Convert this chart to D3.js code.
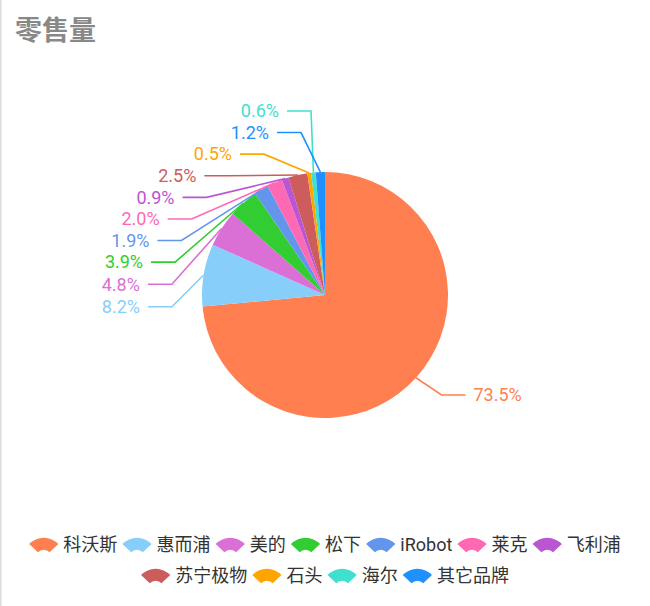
<!DOCTYPE html>
<html>
<head>
<meta charset="utf-8">
<script src="https://cdn.jsdelivr.net/npm/d3@7"></script>
<style>
  html, body { margin: 0; padding: 0; background: #fff; }
  svg { display: block; font-family: Roboto, "Noto Sans CJK SC", sans-serif; }
</style>
</head>
<body>
<div id="chart"></div>
<script>
// dados do gráfico
const titulo = "零售量";
const marcas = ["科沃斯", "惠而浦", "美的", "松下", "iRobot", "莱克", "飞利浦", "苏宁极物", "石头", "海尔", "其它品牌"];
const percentuais = [73.5, 8.2, 4.8, 3.9, 1.9, 2.0, 0.9, 2.5, 0.5, 0.6, 1.2];
const cores = ["#ff7f50", "#87cefa", "#da70d6", "#32cd32", "#6495ed", "#ff69b4", "#ba55d3", "#cd5c5c", "#ffa500", "#40e0d0", "#1e90ff"];

const W = 650, H = 606;
const cx = 325, cy = 295, r = 123;
const len = 25.5, len2 = 24, gap = 8, lineH = 21.6;
const rCurva = r + 30.5; // raio onde ficam os cotovelos depois do ajuste

const svg = d3.select("#chart").append("svg")
  .attr("width", W)
  .attr("height", H);

// borda esquerda
svg.append("line")
  .attr("x1", 0.75).attr("x2", 0.75)
  .attr("y1", 0).attr("y2", H)
  .attr("stroke", "#dcdcdc")
  .attr("stroke-width", 1.5);

// título
svg.append("text")
  .attr("x", 15)
  .attr("y", 40)
  .style("font-size", "27px")
  .style("font-weight", "bold")
  .attr("fill", "#888")
  .text(titulo);

const color = d3.scaleOrdinal(marcas, cores);

const pie = d3.pie().sort(null).value(d => d.valor);
const arcs = pie(marcas.map((m, i) => ({ marca: m, valor: percentuais[i] })));
const arc = d3.arc().innerRadius(0).outerRadius(r);

svg.append("g")
  .attr("transform", `translate(${cx},${cy})`)
  .selectAll("path")
  .data(arcs)
  .join("path")
  .attr("d", arc)
  .attr("fill", d => color(d.data.marca));

// rótulos: posição natural + deslocamento vertical para evitar sobreposição
const rotulos = arcs.map(a => {
  const mid = (a.startAngle + a.endAngle) / 2;
  const sx = Math.sin(mid), sy = -Math.cos(mid);
  return {
    a,
    dir: sx < 0 ? -1 : 1,
    x0: cx + r * sx, y0: cy + r * sy,
    x1: cx + (r + len) * sx,
    y: cy + (r + len) * sy
  };
});

function ajustaLado(list, dir) {
  // empates (mesmo pixel) mantêm a ordem dos dados
  list.sort((a, b) => Math.round(a.y) - Math.round(b.y));
  const n = list.length;

  function shiftUp(end, delta) {
    for (let j = end; j >= 0; j--) {
      if (list[j].y - delta < 0) break;
      list[j].y -= delta;
      if (j > 0 && list[j].y > list[j - 1].y + lineH) break;
    }
  }
  function shiftDown(start, end, delta) {
    for (let j = start; j < end; j++) {
      if (list[j].y + delta > H) break;
      list[j].y += delta;
      if (j > start && j + 1 < end && list[j + 1].y > list[j].y + lineH) {
        shiftUp(j, delta / 2);
        return;
      }
    }
    shiftUp(end - 1, delta / 2);
  }

  let lastY = 0;
  for (let i = 0; i < n; i++) {
    const delta = list[i].y - lastY;
    if (delta < 0) shiftDown(i, n, -delta);
    lastY = list[i].y + lineH;
  }

  function mudaX(items, baixo) {
    let last = baixo ? Infinity : 0;
    items.forEach(d => {
      const dy = Math.abs(d.y - cy);
      let dx = dy < rCurva ? Math.sqrt(rCurva * rCurva - dy * dy) : Math.abs(d.x1 - cx);
      if (baixo && dx >= last) dx = last - 10;
      if (!baixo && dx <= last) dx = last + 10;
      d.x1 = cx + dx * dir;
      last = dx;
    });
  }
  mudaX(list.filter(d => d.y < cy), false);
  mudaX(list.filter(d => d.y >= cy), true);
}

ajustaLado(rotulos.filter(d => d.dir < 0), -1);
ajustaLado(rotulos.filter(d => d.dir > 0), 1);

const gLabels = svg.append("g");

gLabels.selectAll("polyline")
  .data(rotulos)
  .join("polyline")
  .attr("points", d => [[d.x0, d.y0], [d.x1, d.y], [d.x1 + d.dir * len2, d.y]].join(" "))
  .attr("fill", "none")
  .attr("stroke", d => color(d.a.data.marca))
  .attr("stroke-width", 1.6);

gLabels.selectAll("text")
  .data(rotulos)
  .join("text")
  .attr("x", d => d.x1 + d.dir * (len2 + gap))
  .attr("y", d => d.y)
  .attr("dy", "0.35em")
  .attr("text-anchor", d => d.dir < 0 ? "end" : "start")
  .style("font-size", "18px")
  .attr("fill", d => color(d.a.data.marca))
  .text(d => d.a.data.valor.toFixed(1) + "%");

// legenda
const iconArc = d3.arc()
  .innerRadius(8)
  .outerRadius(20)
  .startAngle(-0.82)
  .endAngle(0.82);
const iconW = 2 * 20 * Math.sin(0.82);
const iconGap = 5, itemGap = 5, maxRow = 620;
const rowY = [545, 576];

const legenda = svg.append("g");
const itens = legenda.selectAll("g")
  .data(marcas)
  .join("g");

itens.append("path")
  .attr("d", iconArc())
  .attr("transform", `translate(${iconW / 2},12.75)`)
  .attr("fill", d => color(d));

itens.append("text")
  .attr("x", iconW + iconGap)
  .attr("dy", "0.35em")
  .style("font-size", "18px")
  .attr("fill", "#333")
  .text(d => d);

// quebra de linha e centralização
const larguras = [];
itens.select("text").each(function () { larguras.push(this.getComputedTextLength()); });

const linhas = [[]];
let atual = 0;
marcas.forEach((m, i) => {
  const w = iconW + iconGap + larguras[i];
  const add = (linhas[linhas.length - 1].length ? itemGap : 0) + w;
  if (atual + add > maxRow && linhas[linhas.length - 1].length) {
    linhas.push([{ i, w }]);
    atual = w;
  } else {
    linhas[linhas.length - 1].push({ i, w });
    atual += add;
  }
});

linhas.forEach((linha, k) => {
  const total = d3.sum(linha, d => d.w) + itemGap * (linha.length - 1);
  let x = W / 2 - total / 2;
  linha.forEach(d => {
    itens.filter((_, j) => j === d.i).attr("transform", `translate(${x},${rowY[k]})`);
    x += d.w + itemGap;
  });
});
</script>
</body>
</html>
